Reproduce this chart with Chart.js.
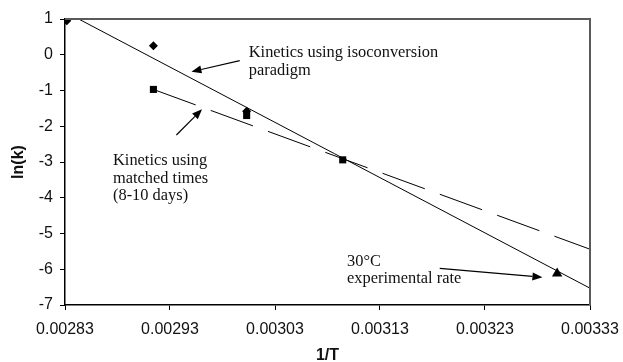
<!DOCTYPE html>
<html>
<head>
<meta charset="utf-8">
<script src="https://cdn.jsdelivr.net/npm/chart.js@4/dist/chart.umd.min.js"></script>
<style>
  html, body { margin: 0; padding: 0; background: #fff; }
  #wrap { width: 623px; height: 362px; }
</style>
</head>
<body>
<div id="wrap"><canvas id="c" width="623" height="362"></canvas></div>
<script>
// 1/T values of the measurements (80, 70, 60, 50, 30 °C)
const isoX = [0.0028317, 0.0029142, 0.0030030];
const isoY = [0.95, 0.25, -1.58];
const matchedX = [0.0029142, 0.0030030, 0.0030945];
const matchedY = [-0.97, -1.70, -2.94];
const expX = [0.0032987];
const expY = [-6.12];
// fitted lines (end points)
const isoFitX = [0.002843, 0.00333];
const isoFitY = [1.0, -6.53];
const matchedFitX = [0.0029142, 0.00333];
const matchedFitY = [-0.97, -5.44];
// axes
const xTicks = [0.00283, 0.00293, 0.00303, 0.00313, 0.00323, 0.00333];
const yTicks = [1, 0, -1, -2, -3, -4, -5, -6, -7];

// annotations (data coordinates)
const notes = [
  { x: 0.003005, y: -0.063, lines: ['Kinetics using isoconversion', 'paradigm'] },
  { x: 0.0028757, y: -3.084, lines: ['Kinetics using', 'matched times', '(8-10 days)'] },
  { x: 0.0030986, y: -5.90, lines: ['30\u00B0C', 'experimental rate'] }
];
const arrows = [
  { x1: 0.0029964, y1: -0.166, x2: 0.0029504, y2: -0.474 },
  { x1: 0.0029361, y1: -2.245, x2: 0.0029605, y2: -1.526 },
  { x1: 0.0031869, y1: -5.973, x2: 0.0032847, y2: -6.225 }
];

const pts = (xs, ys) => xs.map((x, i) => ({ x, y: ys[i] }));

const annotPlugin = {
  id: 'annot',
  afterDatasetsDraw(chart) {
    const { ctx, chartArea: a, scales: { x, y } } = chart;
    ctx.save();
    // frame top and right
    ctx.strokeStyle = '#5a5a5a';
    ctx.lineWidth = 2;
    ctx.beginPath();
    ctx.moveTo(a.left, a.top);
    ctx.lineTo(a.right, a.top);
    ctx.lineTo(a.right, a.bottom);
    ctx.stroke();
    // texts
    ctx.fillStyle = '#111';
    ctx.font = '16.4px "Liberation Serif", "Times New Roman", serif';
    ctx.textAlign = 'left';
    ctx.textBaseline = 'alphabetic';
    notes.forEach(n => {
      const px = x.getPixelForValue(n.x), py = y.getPixelForValue(n.y);
      n.lines.forEach((t, i) => ctx.fillText(t, px, py + i * 17.7));
    });
    // arrows
    ctx.strokeStyle = '#000';
    ctx.fillStyle = '#000';
    ctx.lineWidth = 1.2;
    arrows.forEach(ar => {
      const x1 = x.getPixelForValue(ar.x1), y1 = y.getPixelForValue(ar.y1);
      const x2 = x.getPixelForValue(ar.x2), y2 = y.getPixelForValue(ar.y2);
      const ang = Math.atan2(y2 - y1, x2 - x1);
      const L = 10, W = 4;
      const bx = x2 - L * Math.cos(ang), by = y2 - L * Math.sin(ang);
      ctx.beginPath();
      ctx.moveTo(x1, y1);
      ctx.lineTo(bx, by);
      ctx.stroke();
      ctx.beginPath();
      ctx.moveTo(x2, y2);
      ctx.lineTo(bx + W * Math.sin(ang), by - W * Math.cos(ang));
      ctx.lineTo(bx - W * Math.sin(ang), by + W * Math.cos(ang));
      ctx.closePath();
      ctx.fill();
    });
    ctx.restore();
  }
};

new Chart(document.getElementById('c'), {
  type: 'scatter',
  data: {
    datasets: [
      { label: 'Isoconversion', data: pts(isoX, isoY), pointStyle: 'rectRot', pointRadius: 4.5,
        backgroundColor: '#000', borderColor: '#000', borderWidth: 0, showLine: false },
      { label: 'Matched times', data: pts(matchedX, matchedY), pointStyle: 'rect', pointRadius: 5,
        backgroundColor: '#000', borderColor: '#000', borderWidth: 0, showLine: false },
      { label: '30°C experimental', data: pts(expX, expY), pointStyle: 'triangle', pointRadius: 6,
        backgroundColor: '#000', borderColor: '#000', borderWidth: 0, showLine: false },
      { label: 'Isoconversion fit', data: pts(isoFitX, isoFitY), showLine: true, pointRadius: 0,
        borderColor: '#000', borderWidth: 1, fill: false },
      { label: 'Matched fit', data: pts(matchedFitX, matchedFitY), showLine: true, pointRadius: 0,
        borderColor: '#000', borderWidth: 1, borderDash: [45, 16], fill: false }
    ]
  },
  options: {
    responsive: false,
    animation: false,
    devicePixelRatio: 1,
    layout: { padding: { top: 19, right: 33, bottom: 0, left: 0 } },
    plugins: { legend: { display: false }, tooltip: { enabled: false } },
    scales: {
      x: {
        type: 'linear', min: 0.00283, max: 0.00333,
        afterFit(s) { s.height = 57; s.paddingLeft = 0; s.paddingRight = 0; },
        afterBuildTicks(s) { s.ticks = xTicks.map(v => ({ value: v })); },
        ticks: {
          color: '#111', padding: 10,
          font: { family: '"Liberation Sans", Arial, sans-serif', size: 16 },
          callback: v => v.toFixed(5)
        },
        grid: { drawOnChartArea: false, drawTicks: true, tickLength: 5, color: '#000', lineWidth: 1 },
        border: { display: true, color: '#000', width: 1.5 },
        title: { display: true, text: '1/T', color: '#111',
          font: { family: '"Liberation Sans", Arial, sans-serif', size: 16, weight: 'bold', lineHeight: 0.8 },
          padding: { top: 0, bottom: 0 } }
      },
      y: {
        type: 'linear', min: -7, max: 1,
        afterFit(s) { s.width = 65; s.paddingTop = 0; s.paddingBottom = 0; },
        afterBuildTicks(s) { s.ticks = yTicks.map(v => ({ value: v })); },
        ticks: {
          color: '#111', padding: 7,
          font: { family: '"Liberation Sans", Arial, sans-serif', size: 16 },
          callback: v => String(v)
        },
        grid: { drawOnChartArea: false, drawTicks: true, tickLength: 5, color: '#000', lineWidth: 1 },
        border: { display: true, color: '#000', width: 1.5 },
        title: { display: true, text: 'ln(k)', color: '#111',
          font: { family: '"Liberation Sans", Arial, sans-serif', size: 16, weight: 'bold' },
          padding: { top: 9, bottom: 0 } }
      }
    }
  },
  plugins: [annotPlugin]
});
</script>
</body>
</html>
